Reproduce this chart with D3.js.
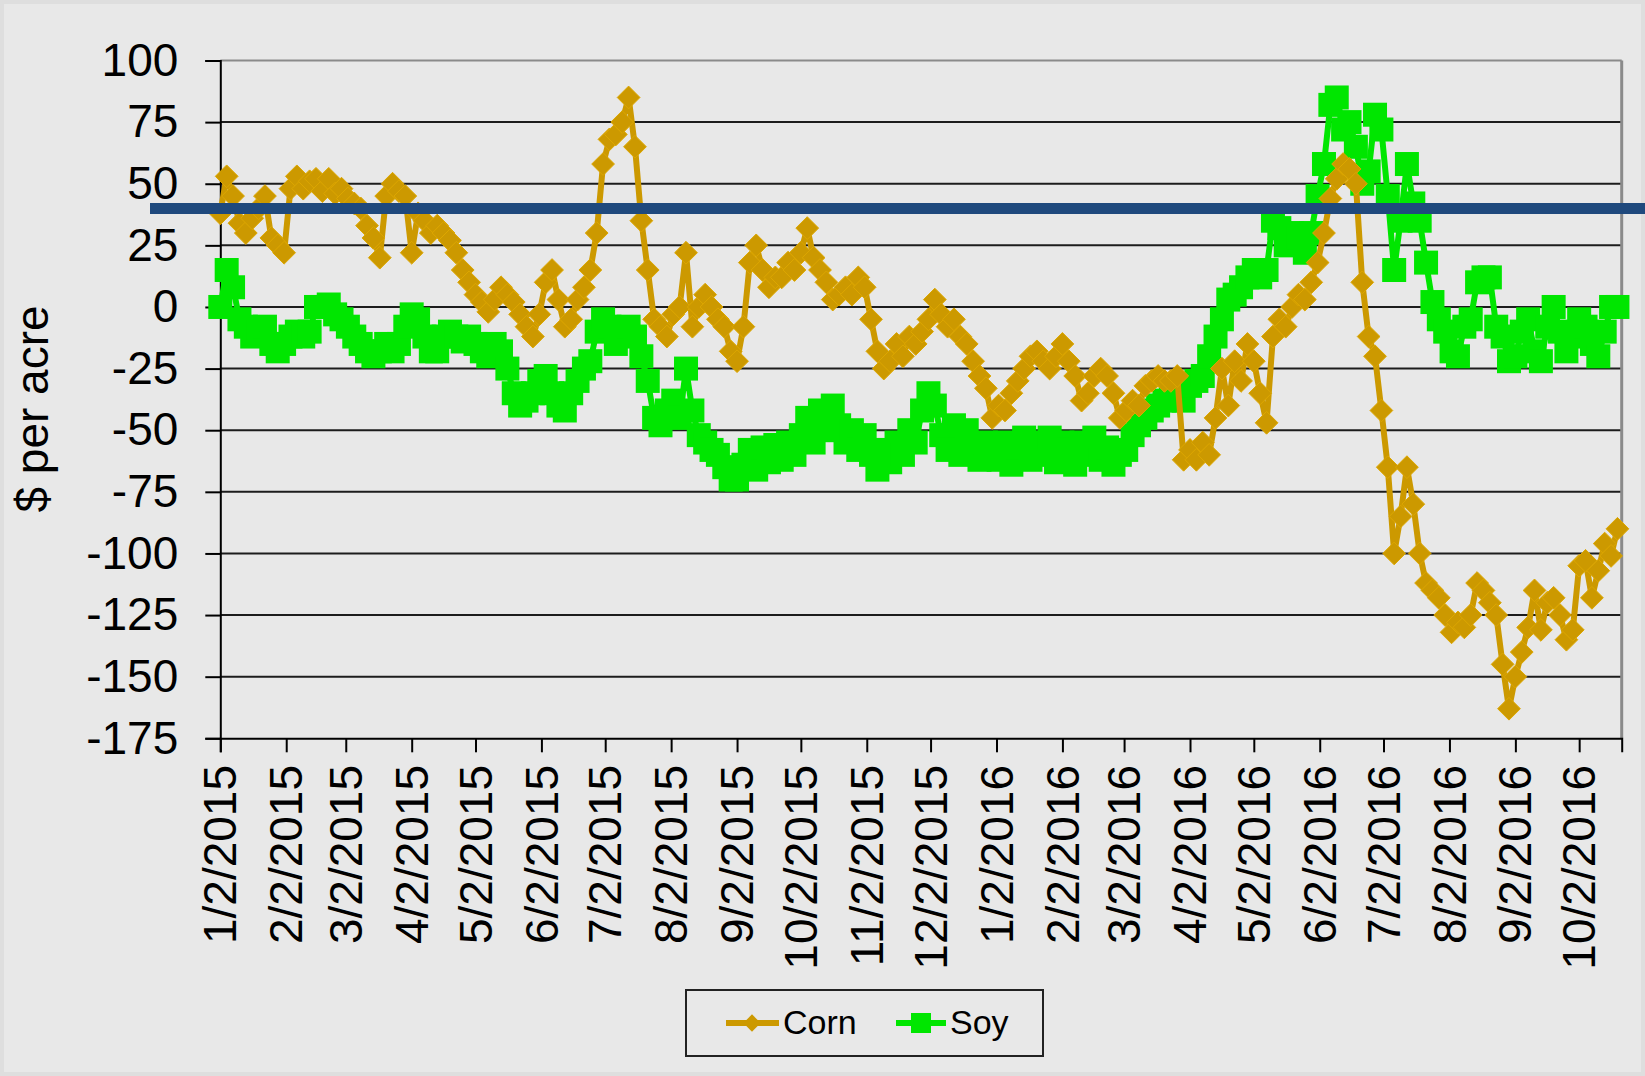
<!DOCTYPE html>
<html>
<head>
<meta charset="utf-8">
<script src="https://cdn.jsdelivr.net/npm/d3@7"></script>
<style>
  html, body { margin: 0; padding: 0; background: #E8E8E8; }
  svg { display: block; }
  text { font-family: "Liberation Sans", Arial, sans-serif; fill: #000; }
</style>
</head>
<body>
<script>
// ---------------- DATA ----------------
// Series sampled every 3 calendar days starting 1/2/2015
const startDate = "1/2/2015";
const stepDays = 3;
const seriesNames = ["Corn", "Soy"];

const corn = [
  38, 53, 45, 34, 30, 36, 40, 45, 28, 25,
  22, 48, 53, 48, 51, 52, 47, 52, 46, 48,
  44, 42, 40, 33, 28, 20, 45, 50, 47, 45,
  22, 38, 35, 30, 33, 30, 27, 22, 15, 10,
  5, 2, -2, 3, 8, 5, 2, -3, -8, -12,
  -3, 10, 15, 3, -8, -5, 3, 8, 15, 30,
  58, 68, 70, 75, 85, 65, 35, 15, -5, -8,
  -12, -3, 0, 22, -8, 0, 5, 0, -5, -8,
  -18, -22, -8, 18, 25, 15, 8, 12, 12, 18,
  15, 22, 32, 20, 15, 10, 3, 5, 8, 5,
  12, 8, -5, -18, -25, -22, -15, -20, -12, -15,
  -10, -5, 3, -3, -8, -5, -12, -15, -22, -28,
  -33, -45, -40, -42, -35, -30, -25, -20, -18, -22,
  -25, -20, -15, -22, -28, -38, -35, -28, -25, -28,
  -35, -45, -42, -38, -40, -32, -30, -28, -30, -30,
  -28, -62, -58, -62, -55, -60, -45, -25, -40, -22,
  -30, -15, -22, -35, -47, -12, -5, -8, 0, 5,
  3, 10, 18, 30, 44, 52, 58, 56, 50, 10,
  -12, -20, -42, -65, -100, -85, -65, -80, -100, -112,
  -115, -118, -125, -132, -128, -130, -125, -112, -115, -120,
  -125, -145, -163, -150, -140, -130, -115, -131, -120, -118,
  -125, -135, -131, -105, -103, -118, -107, -96, -101, -90
];

const soy = [
  0, 15, 8, -5, -8, -12, -10, -8, -15, -18,
  -15, -12, -10, -12, -10, 0, 0, 1, -3, -5,
  -8, -12, -15, -18, -20, -18, -15, -18, -15, -8,
  -3, -5, -12, -18, -18, -12, -10, -12, -14, -12,
  -15, -18, -20, -15, -18, -25, -35, -40, -38, -35,
  -30, -28, -35, -40, -42, -35, -30, -25, -22, -10,
  -5, -8, -15, -10, -8, -12, -20, -30, -45, -48,
  -42, -38, -45, -25, -42, -52, -55, -58, -60, -65,
  -70, -70, -64, -58, -66, -57, -63, -56, -62, -55,
  -60, -52, -45, -55, -42, -50, -40, -48, -55, -50,
  -58, -52, -60, -66, -58, -63, -55, -60, -50, -55,
  -42, -35, -40, -52, -58, -48, -60, -50, -56, -62,
  -55, -60, -62, -55, -64, -57, -53, -62, -55, -60,
  -53, -63, -55, -58, -64, -55, -60, -53, -62, -57,
  -64, -60, -58, -52, -48, -45, -42, -40, -38, -35,
  -35, -38, -32, -30, -28, -20, -12, -5, 3, 5,
  8, 12, 15, 12, 15, 35, 32, 25, 30, 28,
  22, 30, 45, 58, 82, 85, 72, 75, 65, 50,
  55, 78, 72, 45, 15, 35, 58, 42, 35, 18,
  2, -5, -10, -18, -20, -8, -5, 10, 12, 12,
  -8, -12, -22, -20, -10, -5, -18, -22, -8, 0,
  -10, -18, -12, -5, -8, -15, -20, -10, 0, 0
];

const yTicks = [100, 75, 50, 25, 0, -25, -50, -75, -100, -125, -150, -175];
const xTickLabels = [
  "1/2/2015", "2/2/2015", "3/2/2015", "4/2/2015", "5/2/2015", "6/2/2015",
  "7/2/2015", "8/2/2015", "9/2/2015", "10/2/2015", "11/2/2015", "12/2/2015",
  "1/2/2016", "2/2/2016", "3/2/2016", "4/2/2016", "5/2/2016", "6/2/2016",
  "7/2/2016", "8/2/2016", "9/2/2016", "10/2/2016"
];
const axisEnd = "10/22/2016";
const yTitle = "$ per acre";
const referenceValue = 40;

// ---------------- CHART ----------------
const W = 1645, H = 1076;
const parse = d3.timeParse("%m/%d/%Y");
const t0 = parse(startDate);

const svg = d3.select("body").append("svg").attr("width", W).attr("height", H);

svg.append("rect").attr("x", 0).attr("y", 0).attr("width", W).attr("height", H)
  .attr("fill", "#E8E8E8");
svg.append("rect").attr("x", 2).attr("y", 2).attr("width", W - 4).attr("height", H - 4)
  .attr("fill", "none").attr("stroke", "#DEDEDE").attr("stroke-width", 4);

const pLeft = 220.3, pRight = 1621.7, pTop = 60.5, pBottom = 738.3;

const x = d3.scaleTime().domain([t0, parse(axisEnd)]).range([pLeft, pRight]);
const y = d3.scaleLinear().domain([-175, 100]).range([pBottom, pTop]);

// gridlines
svg.append("g").selectAll("line").data(yTicks.filter(v => v !== 100 && v !== -175)).join("line")
  .attr("x1", pLeft).attr("x2", pRight)
  .attr("y1", d => y(d)).attr("y2", d => y(d))
  .attr("stroke", "#1c1c1c").attr("stroke-width", 2);

// plot border top/right (gray)
svg.append("line").attr("x1", pLeft).attr("x2", pRight).attr("y1", y(100)).attr("y2", y(100))
  .attr("stroke", "#8a8a8a").attr("stroke-width", 2);
svg.append("line").attr("x1", pRight).attr("x2", pRight).attr("y1", pTop).attr("y2", pBottom)
  .attr("stroke", "#8a8a8a").attr("stroke-width", 3);

// Y axis
const yAxis = svg.append("g").attr("transform", `translate(${pLeft},0)`)
  .call(d3.axisLeft(y).tickValues(yTicks).tickSize(15).tickPadding(27).tickFormat(d => String(d)));
yAxis.select(".domain").attr("stroke", "#000").attr("stroke-width", 2);
yAxis.selectAll(".tick line").attr("stroke", "#000").attr("stroke-width", 2);
yAxis.selectAll(".tick text")
  .style("font-family", '"Liberation Sans", Arial, sans-serif')
  .style("font-size", "46px").attr("fill", "#000");

// X axis
const xTickDates = xTickLabels.map(parse);
const xAxis = svg.append("g").attr("transform", `translate(0,${pBottom})`)
  .call(d3.axisBottom(x).tickValues(xTickDates).tickSize(14).tickFormat(""));
xAxis.select(".domain").attr("stroke", "#000").attr("stroke-width", 2);
xAxis.selectAll(".tick line").attr("stroke", "#000").attr("stroke-width", 2);

svg.append("g").selectAll("text").data(xTickLabels).join("text")
  .attr("transform", d => `translate(${x(parse(d))},765) rotate(-90)`)
  .attr("text-anchor", "end")
  .attr("dy", "0.35em")
  .style("font-size", "46px")
  .text(d => d);

// Y title
svg.append("text")
  .attr("transform", "translate(48,409) rotate(-90)")
  .attr("text-anchor", "middle")
  .style("font-size", "46px")
  .text(yTitle);

// series
const dateAt = i => d3.timeDay.offset(t0, stepDays * i);
const soyData = soy.map((v, i) => ({ d: dateAt(i), v }));
const cornData = corn.map((v, i) => ({ d: dateAt(i), v }));

const line = d3.line().x(p => x(p.d)).y(p => y(p.v));

const cornColor = "#CC9900", soyColor = "#00E600";

// Soy
svg.append("path").datum(soyData).attr("d", line)
  .attr("fill", "none").attr("stroke", soyColor).attr("stroke-width", 6).attr("stroke-linejoin", "round");
const sq = 24;
svg.append("g").selectAll("rect").data(soyData).join("rect")
  .attr("x", p => x(p.d) - sq / 2).attr("y", p => y(p.v) - sq / 2)
  .attr("width", sq).attr("height", sq).attr("fill", soyColor);

// Corn
svg.append("path").datum(cornData).attr("d", line)
  .attr("fill", "none").attr("stroke", cornColor).attr("stroke-width", 6).attr("stroke-linejoin", "round");
const diamond = d3.symbol().type(d3.symbolDiamond2).size(330);
svg.append("g").selectAll("path").data(cornData).join("path")
  .attr("d", diamond)
  .attr("transform", p => `translate(${x(p.d)},${y(p.v)})`)
  .attr("fill", cornColor).attr("stroke", "#DDA700").attr("stroke-width", 1);

// reference line
svg.append("line").attr("x1", 150).attr("x2", W)
  .attr("y1", y(referenceValue)).attr("y2", y(referenceValue))
  .attr("stroke", "#1F497D").attr("stroke-width", 11);

// legend
const lg = svg.append("g");
lg.append("rect").attr("x", 686).attr("y", 990).attr("width", 357).attr("height", 66)
  .attr("fill", "none").attr("stroke", "#222").attr("stroke-width", 2);
lg.append("line").attr("x1", 726).attr("x2", 779).attr("y1", 1023).attr("y2", 1023)
  .attr("stroke", cornColor).attr("stroke-width", 6);
lg.append("path").attr("d", d3.symbol().type(d3.symbolDiamond2).size(190))
  .attr("transform", "translate(752,1023)").attr("fill", cornColor);
lg.append("text").attr("x", 783).attr("y", 1034).style("font-size", "34px").text(seriesNames[0]);
lg.append("line").attr("x1", 896).attr("x2", 946).attr("y1", 1023).attr("y2", 1023)
  .attr("stroke", soyColor).attr("stroke-width", 6);
lg.append("rect").attr("x", 911).attr("y", 1013).attr("width", 20).attr("height", 20).attr("fill", soyColor);
lg.append("text").attr("x", 950).attr("y", 1034).style("font-size", "34px").text(seriesNames[1]);
</script>
</body>
</html>
